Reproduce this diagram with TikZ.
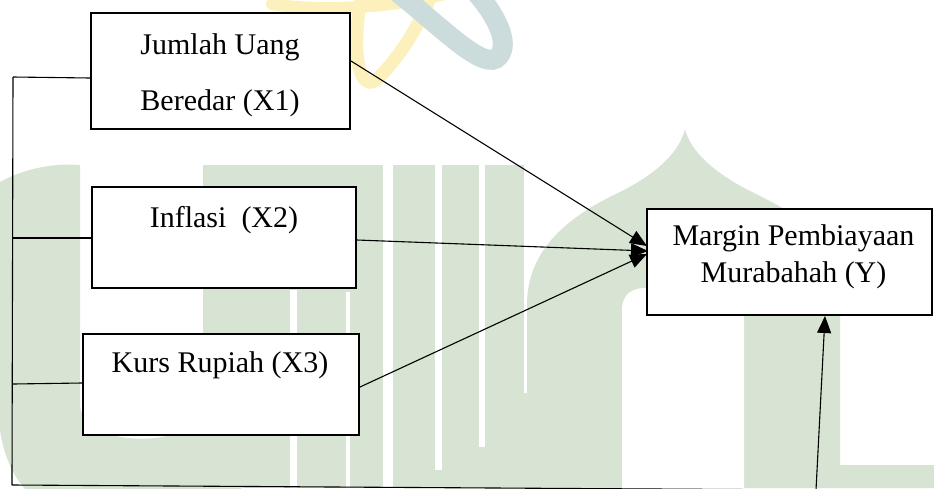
\documentclass[tikz,border=0pt]{standalone}
\usepackage{fontspec}
\setmainfont{Liberation Serif}
\usetikzlibrary{arrows.meta,calc}

\definecolor{wmgreen}{HTML}{D7E3D3}
\definecolor{wmyellow}{HTML}{FCF1BC}
\definecolor{wmteal}{HTML}{CCDCDC}

\tikzset{
  varbox/.style={draw=black, line width=2pt, fill=white, inner sep=0pt, rectangle},
  lbl/.style={inner sep=0pt, anchor=base, font=\fontsize{30}{37}\selectfont},
  link/.style={draw=black, line width=1.1pt},
  arr/.style={link, -{Triangle[length=17pt, width=14pt]}},
}

\begin{document}
\begin{tikzpicture}[x=1pt, y=-1pt]
\useasboundingbox (0,0) rectangle (934,488);
\clip (0,0) rectangle (934,488);

% --- faint logo in the background ---
% orbit rings at the top
\draw[wmyellow, line width=12pt, line cap=round]
  (272,4) .. controls (320,12) and (390,8) .. (445,-6);
\draw[wmyellow, line width=13pt, line cap=round]
  (362,-8) .. controls (350,55) and (360,92) .. (376,80)
  .. controls (398,60) and (422,22) .. (432,-8);
\draw[wmteal, line width=20pt, line cap=round]
  (392,-12) .. controls (440,25) and (485,74) .. (499,56)
  .. controls (510,42) and (496,14) .. (472,-12);

% letter U
\fill[wmgreen]
  (0,182) .. controls (25,168) and (55,163) .. (80,165)
  -- (80,405) .. controls (82,450) and (200,450) .. (203,405)
  -- (203,165) -- (290,165) -- (290,300)
  .. controls (290,420) and (265,520) .. (150,530)
  .. controls (60,530) and (10,500) .. (0,430) -- cycle;

% letter I as a row of bars
\fill[wmgreen] (203,165) rectangle (383,488);
\fill[wmgreen] (393,165) rectangle (435,488);
\fill[wmgreen] (442,165) rectangle (479,488);
\fill[wmgreen] (485,165) rectangle (524,488);
\fill[wmgreen] (435,470) rectangle (442,488);
\fill[wmgreen] (479,447) rectangle (485,488);
\fill[wmgreen] (524,393) rectangle (527,488);
\fill[white] (290,290) rectangle (297,488);
\fill[white] (346,292) rectangle (350,488);

% dome and arch
\fill[wmgreen]
  (527,488) -- (527,305)
  .. controls (527,255) and (560,220) .. (620,192)
  .. controls (660,172) and (680,150) .. (685,129)
  .. controls (690,150) and (712,172) .. (752,192)
  .. controls (810,220) and (840,245) .. (840,300)
  -- (840,465) -- (934,465) -- (934,488) -- cycle;
\fill[white]
  (622,488) -- (622,310) .. controls (622,296) and (630,288) .. (645,288)
  -- (744,288) -- (744,488) -- cycle;

% --- diagram ---
\node[varbox, minimum width=259pt, minimum height=116pt] (x1) at (220.5,71) {};
\node[varbox, minimum width=264pt, minimum height=101pt] (x2) at (224,237.5) {};
\node[varbox, minimum width=276pt, minimum height=101pt] (x3) at (221,384.5) {};
\node[varbox, minimum width=285pt, minimum height=106pt] (y) at (789.5,262) {};

\node[lbl] (x1a) at (220,54) {Jumlah Uang};
\node[lbl] (x1b) at (220,110) {Beredar (X1)};
\node[lbl] (x2a) at (224,227) {Inflasi\ \ (X2)};
\node[lbl] (x3a) at (220,372) {Kurs Rupiah (X3)};
\node[lbl] (ya) at (793.5,245) {Margin Pembiayaan};
\node[lbl] (yb) at (793.5,282) {Murabahah (Y)};

% left bracket joining the three variables
\coordinate (btop) at (13,77);
\coordinate (bbot) at (12,485);
\coordinate (bx2) at (13,238);
\coordinate (bx3) at (13,384);
\coordinate (ybase) at (816,490);
\draw[link] (btop) -- (bbot);
\draw[link] ($(x1.west)+(0,7)$) -- (btop);
\draw[link] ($(x2.west)+(0,0.5)$) -- (bx2);
\draw[link] ($(x3.west)+(0,-1.5)$) -- (bx3);
\draw[link] (bbot) -- (ybase);
\draw[arr] (ybase) -- ($(y.south)+(35.5,0)$);

% arrows into Y
\coordinate (t1) at (647,246);
\coordinate (t2) at (648,251);
\coordinate (t3) at (647,254);
\draw[arr] ($(x1.east)+(0,-10)$) -- (t1);
\draw[arr] ($(x2.east)+(0,2.5)$) -- (t2);
\draw[arr] ($(x3.east)+(0,2.5)$) -- (t3);
\end{tikzpicture}
\end{document}
